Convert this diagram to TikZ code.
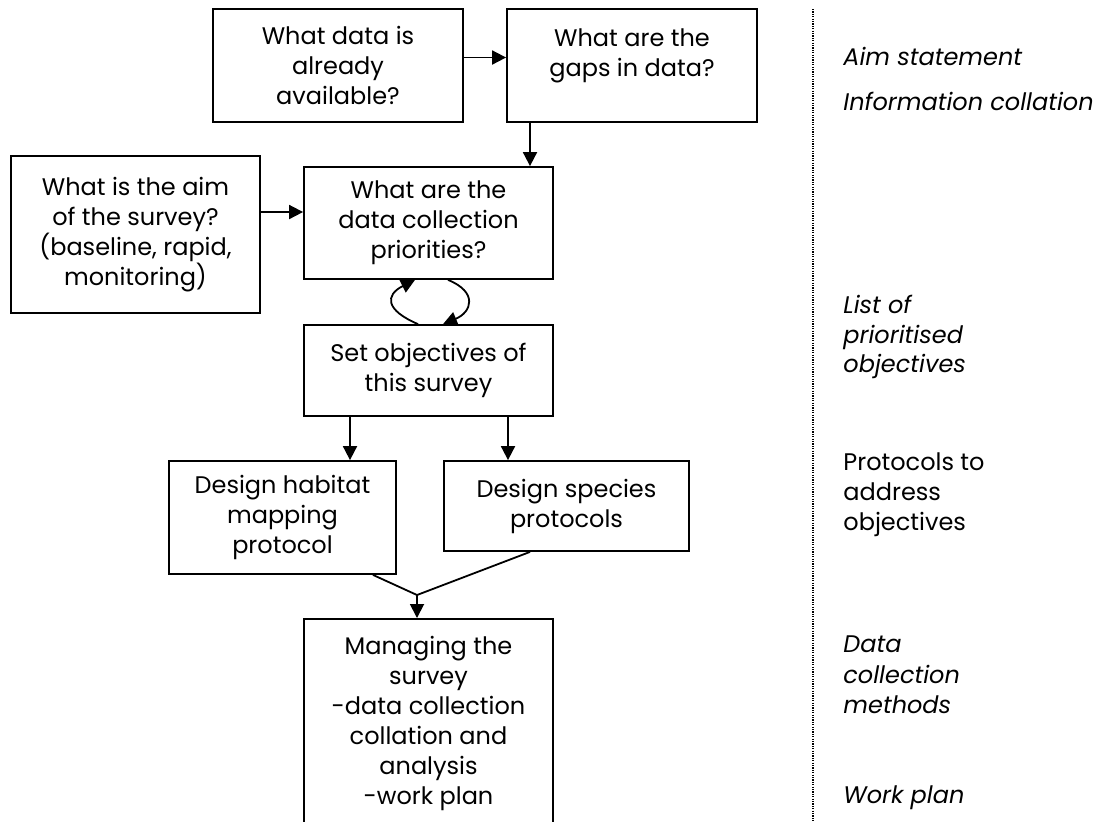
\documentclass[tikz,border=0pt]{standalone}
\usepackage{fontspec}
\setmainfont{Poppins}
\usetikzlibrary{arrows.meta}
\begin{document}
\begin{tikzpicture}[x=0.5pt,y=-0.5pt,
  txt/.style={font=\fontsize{12pt}{15pt}\selectfont},
  box/.style={draw, line width=0.9pt, txt, align=center, inner sep=0pt},
  arr/.style={line width=0.9pt, -{Triangle[length=7pt,width=7pt]}},
  lnk/.style={line width=0.9pt},
  side/.style={txt, anchor=base west, inner sep=0pt},
  sideit/.style={side, font=\fontsize{12pt}{15pt}\selectfont\itshape},
]
\useasboundingbox (0,0) rectangle (1106,821);
\clip (0,0) rectangle (1106,821);

% boxes
\node[box, minimum width=125pt, minimum height=56.5pt] (A) at (338,65.5) {What data is\\already\\available?};
\node[box, minimum width=125pt, minimum height=56.5pt] (B) at (632,65.5) {};
\node[txt, align=center, anchor=north, inner sep=0pt] (Bt) at (632,28) {What are the\\gaps in data?};
\node[box, minimum width=124.5pt, minimum height=56pt] (C) at (428.5,223) {What are the\\data collection\\priorities?};
\node[box, minimum width=124.5pt, minimum height=78.5pt] (D) at (135.5,234.5) {What is the aim\\of the survey?\\(baseline, rapid,\\monitoring)};
\node[box, minimum width=124.5pt, minimum height=45.5pt] (E) at (428.5,370.5) {Set objectives of\\this survey};
\node[box, minimum width=113.5pt, minimum height=56.5pt] (F) at (282.5,517.5) {Design habitat\\mapping\\protocol};
\node[box, minimum width=122.5pt, minimum height=45pt] (G) at (566.5,506) {Design species\\protocols};
\node[box, anchor=north, minimum width=124.5pt, minimum height=150pt] (H) at (428.5,618) {};
\node[txt, align=center, anchor=north, inner sep=0pt] (Ht) at (428.5,636) {Managing the\\survey\\-data collection\\collation and\\analysis\\-work plan};

% connectors
\draw[arr] ([yshift=4pt]A.east) -- ([yshift=4pt]B.west);
\draw[arr] (B.south -| 530,0) -- (C.north -| 530,0);
\draw[arr] (D.east |- 0,212) -- (C.west |- 0,212);
\draw[arr] (E.north -| 418,0) .. controls (385,310) and (385,295) .. (C.south -| 415,0);
\draw[arr] (C.south -| 448,0) .. controls (478,292) and (472,312) .. (E.north -| 443,0);
\draw[arr] (E.south -| 350,0) -- (F.north -| 350,0);
\draw[arr] (E.south -| 508,0) -- (G.north -| 508,0);
\coordinate (J) at (417,595);
\draw[lnk] (F.south -| 373,0) -- (J);
\draw[lnk] (G.south -| 530,0) -- (J);
\draw[arr] (J) -- (J |- H.north);

% divider
\coordinate (d1) at (813,9);
\coordinate (d2) at (813,821);
\draw[line width=0.6pt, dash pattern=on 0.6pt off 0.6pt] (d1) -- (d2);

% side labels
\node[sideit] (s1) at (843,65) {Aim statement};
\node[sideit] (s2) at (843,110) {Information collation};
\node[sideit] (s3a) at (843,313) {List of};
\node[sideit] (s3b) at (843,343) {prioritised};
\node[sideit] (s3c) at (843,372) {objectives};
\node[side] (s4a) at (843,470) {Protocols to};
\node[side] (s4b) at (843,500) {address};
\node[side] (s4c) at (843,530) {objectives};
\node[sideit] (s5a) at (843,652) {Data};
\node[sideit] (s5b) at (843,683) {collection};
\node[sideit] (s5c) at (843,713) {methods};
\node[sideit] (s6) at (843,803) {Work plan};
\end{tikzpicture}
\end{document}
